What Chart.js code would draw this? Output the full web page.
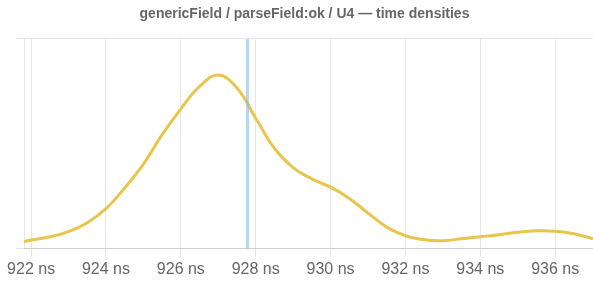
<!DOCTYPE html>
<html>
<head>
<meta charset="utf-8">
<script src="https://cdn.jsdelivr.net/npm/chart.js@4"></script>
<style>
  html, body { margin: 0; padding: 0; background: #fff; }
  canvas { display: block; }
</style>
</head>
<body>
<canvas id="chart" width="593" height="285"></canvas>
<script>
// density curve (time in ns, density)
const times = [921.81, 922.5, 923.0, 923.5, 924.0, 924.5, 925.0, 925.5, 926.0, 926.5,
  927.0, 927.5, 928.0, 928.5, 929.0, 929.5, 930.0, 930.5, 931.0, 931.5,
  932.0, 932.5, 933.0, 933.5, 934.0, 934.5, 935.0, 935.5, 936.0, 936.5, 937.01];
const density = [0.0105, 0.0172, 0.0244, 0.0373, 0.0574, 0.0870, 0.1210, 0.1630, 0.2000, 0.2320,
  0.2483, 0.2297, 0.1866, 0.1435, 0.1160, 0.1000, 0.0880, 0.0720, 0.0510, 0.0310,
  0.0187, 0.0129, 0.0115, 0.0144, 0.0172, 0.0201, 0.0237, 0.0258, 0.0251, 0.0215, 0.0144];
const tickValues = [922, 924, 926, 928, 930, 932, 934, 936];
// marker line
const markerTime = 927.78;
const yMax = 0.30;
const xMin = 921.81, xMax = 937.01;

const ctx = document.getElementById('chart');

const curve = times.map((t, i) => ({ x: t, y: density[i] }));

new Chart(ctx, {
  type: 'line',
  data: {
    datasets: [{
      label: 'marker',
      data: [{ x: markerTime, y: 0 }, { x: markerTime, y: yMax }],
      borderColor: 'rgba(120,180,235,0.55)',
      borderWidth: 3,
      pointRadius: 0
    }, {
      label: 'density',
      data: curve,
      borderColor: '#e9c54c',
      borderWidth: 3,
      pointRadius: 0,
      tension: 0.4
    }]
  },
  options: {
    responsive: false,
    animation: false,
    layout: { padding: { left: 16, right: 0, bottom: 3 } },
    plugins: {
      legend: { display: false },
      tooltip: { enabled: false },
      title: {
        display: true,
        text: 'genericField / parseField:ok / U4 — time densities',
        color: '#666',
        font: { size: 14, weight: 'bold', family: 'Liberation Sans, Arial, sans-serif' },
        padding: { top: 6, bottom: 16 }
      }
    },
    scales: {
      x: {
        type: 'linear',
        min: xMin,
        max: xMax,
        ticks: {
          color: '#666',
          font: { size: 16, family: 'Liberation Sans, Arial, sans-serif' },
          maxRotation: 0,
          callback: v => v + ' ns'
        },
        afterBuildTicks: scale => {
          scale.ticks = tickValues.map(v => ({ value: v }));
        },
        grid: { color: '#e6e6e6' }
      },
      y: {
        min: 0,
        max: yMax,
        ticks: { display: false, count: 2 },
        grid: { color: '#e6e6e6' }
      }
    }
  }
});
</script>
</body>
</html>
